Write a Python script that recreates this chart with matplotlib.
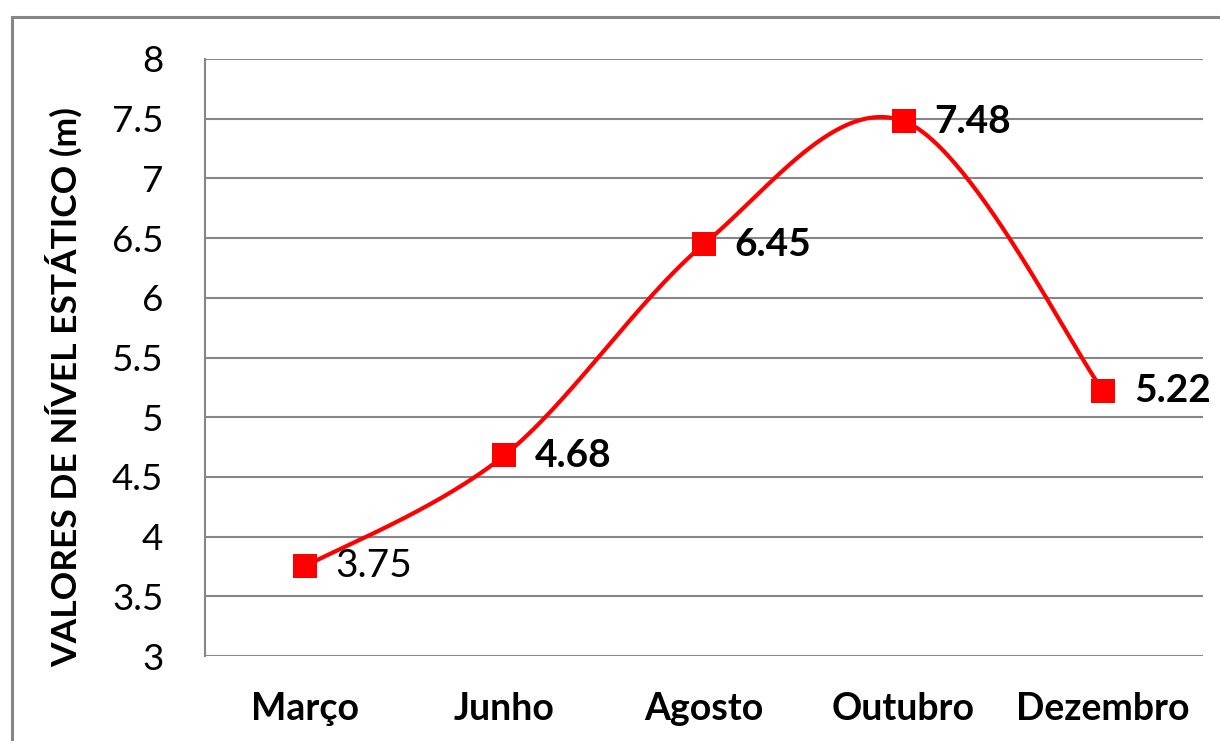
import numpy as np
import matplotlib
matplotlib.use("Agg")
import matplotlib.pyplot as plt
from matplotlib.patches import Rectangle

categories = ["Março", "Junho", "Agosto", "Outubro", "Dezembro"]
values = [3.75, 4.68, 6.45, 7.48, 5.22]
label_texts = ["3.75", "4.68", "6.45", "7.48", "5.22"]
label_weights = ["normal", "bold", "bold", "bold", "bold"]
yticks = [3, 3.5, 4, 4.5, 5, 5.5, 6, 6.5, 7, 7.5, 8]
ytick_labels = ["3", "3.5", "4", "4.5", "5", "5.5", "6", "6.5", "7", "7.5", "8"]
ylabel = "VALORES DE NÍVEL ESTÁTICO (m)"

plt.rcParams['font.family'] = ['Lato', 'DejaVu Sans']

W, H = 1220, 741
fig = plt.figure(figsize=(W / 100, H / 100), dpi=100)
fig.patch.set_facecolor('white')

# outer chart border
fig.patches.append(Rectangle((11.5 / W, -0.05), 1.2, 1 - 16.5 / H + 0.05,
                             transform=fig.transFigure, fill=False,
                             edgecolor='#868686', linewidth=2.2, zorder=0))

ax = fig.add_axes([205 / W, 1 - 656 / H, 998 / W, 597 / H])
x = np.arange(len(categories))
ax.set_xlim(-0.5, len(categories) - 0.5)
ax.set_ylim(3, 8)

# Smoothed line (bezier smoothing as in spreadsheet charts)
def smooth(xs, ys, n=60):
    P = np.column_stack([xs, ys]).astype(float)
    out = []
    for i in range(len(P) - 1):
        p0 = P[i - 1] if i > 0 else P[i]
        p1, p2 = P[i], P[i + 1]
        p3 = P[i + 2] if i + 2 < len(P) else P[i + 1]
        c1 = p1 + (p2 - p0) / 6
        c2 = p2 - (p3 - p1) / 6
        t = np.linspace(0, 1, n)[:, None]
        seg = ((1 - t) ** 3) * p1 + 3 * ((1 - t) ** 2) * t * c1 + 3 * (1 - t) * t ** 2 * c2 + t ** 3 * p2
        out.append(seg if i == 0 else seg[1:])
    return np.vstack(out)

sx = 200.0
sy = 119.4
S = smooth(x * sx, np.array(values) * sy)
ax.plot(S[:, 0] / sx, S[:, 1] / sy, color='#ff0000', linewidth=3.0, zorder=3,
        solid_capstyle='round')
ax.plot(x, values, linestyle='none', marker='s', markersize=17,
        color='#ff0000', markeredgewidth=0, zorder=4)

for xi, v, t, w in zip(x, values, label_texts, label_weights):
    ax.annotate(t, (xi, v), xytext=(22, 0), textcoords='offset points',
                ha='left', va='center', fontsize=28, fontweight=w,
                color='black', zorder=5)

ax.set_yticks(yticks)
ax.set_yticklabels(ytick_labels, fontsize=26.5)
ax.set_xticks(x)
ax.set_xticklabels(categories, fontsize=27, fontweight='bold')
ax.tick_params(axis='y', length=0, pad=30)
ax.tick_params(axis='x', length=0, pad=26)

ax.grid(axis='y', color='#868686', linewidth=1.5)
ax.set_axisbelow(True)
for s in ['top', 'right', 'bottom']:
    ax.spines[s].set_visible(False)
ax.spines['left'].set_color('#868686')
ax.spines['left'].set_linewidth(1.5)

fig.text(64 / W, 1 - 387 / H, ylabel, rotation=90, ha='center', va='center',
         fontsize=25.5, fontweight='bold')

fig.savefig('out.png', dpi=100)
